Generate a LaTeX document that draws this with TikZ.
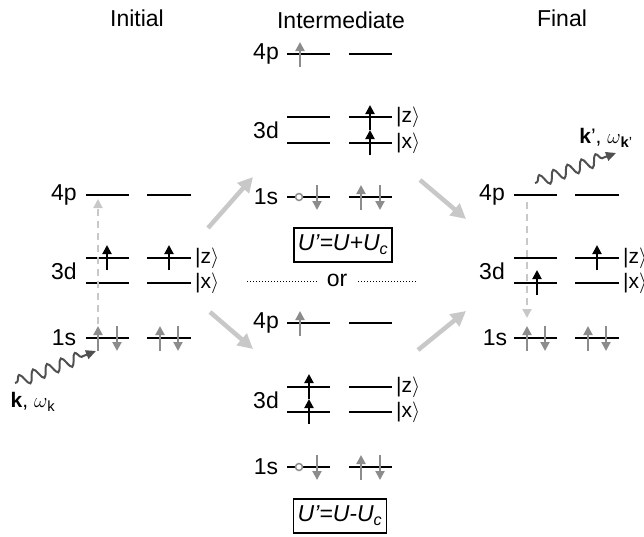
\documentclass[tikz,border=0pt]{standalone}
\usepackage{fontspec}
\setmainfont{Liberation Sans}
\usetikzlibrary{arrows.meta, positioning, decorations.pathmorphing}
\definecolor{spingray}{HTML}{8C8C8C}
\definecolor{pathgray}{HTML}{C8C8C8}
\definecolor{photongray}{HTML}{505050}
\tikzstyle{level} = [line width=2pt, black]
\tikzstyle{lbl} = [font=\fontsize{23}{26}\selectfont, inner sep=0pt]
\tikzstyle{ket} = [font=\fontsize{21}{24}\selectfont, anchor=west, inner sep=0pt]
\tikzstyle{upblack} = [line width=2pt, black, -{Triangle[length=9pt,width=9pt]}]
\tikzstyle{spin} = [line width=2pt, spingray, -{Triangle[length=9pt,width=9pt]}]
\tikzstyle{hole} = [circle, draw=spingray, fill=white, line width=1.5pt, minimum size=7pt, inner sep=0pt]
\tikzstyle{procarrow} = [line width=4.5pt, pathgray, -{Triangle[length=15pt,width=15pt]}]
\tikzstyle{decay} = [line width=2pt, pathgray, dash pattern=on 7pt off 5pt, -{Triangle[length=9pt,width=9pt]}]
\tikzstyle{photon} = [line width=2pt, photongray, -{Triangle[length=10pt,width=9pt]},
  decorate, decoration={snake, segment length=15pt, amplitude=6pt, pre length=2pt, post length=11pt}]
\tikzstyle{ubox} = [draw, line width=1.5pt, font=\fontsize{23}{26}\selectfont\itshape, inner sep=4pt, minimum height=34pt]

\begin{document}
\begin{tikzpicture}[x=1pt, y=-1pt]
  \useasboundingbox (0,0) rectangle (644,536);

  % headings
  \node[lbl] (initial) at (137,18) {Initial};
  \node[lbl] (inter) at (341,20) {Intermediate};
  \node[lbl] (final) at (562,18) {Final};

  % initial state
  \foreach \y in {195,258,283,338} {
    \draw[level] (86,\y) -- (129,\y);
    \draw[level] (147,\y) -- (191,\y);
  }
  \node[lbl] (i4p) at (64,195) {4p};
  \node[lbl] (i3d) at (64,271) {3d};
  \node[lbl] (i1s) at (64,338) {1s};
  \node[ket] (iz) at (195,258) {|z$\rangle$};
  \node[ket] (ix) at (195,283) {|x$\rangle$};
  \draw[upblack] (107,270) -- (107,245);
  \draw[upblack] (169,270) -- (169,245);
  \draw[spin] (98,351) -- (98,326);
  \draw[spin] (117,326) -- (117,351);
  \draw[spin] (160,351) -- (160,326);
  \draw[spin] (178,326) -- (178,351);

  \coordinate (absfrom) at (98,324);
  \coordinate (absto) at (98,199);
  \draw[decay] (absfrom) -- (absto);
  \coordinate (kin) at (15,383);
  \coordinate (kinend) at (96,351);
  \draw[photon] (kin) -- (kinend);
  \node[lbl, font=\fontsize{21}{24}\selectfont] (kvec) at (33,402) {\textbf{k}, $\omega$\textsubscript{k}};

  % intermediate, U' = U + Uc
  \foreach \y in {54,117,143,197} {
    \draw[level] (287,\y) -- (330,\y);
    \draw[level] (349,\y) -- (392,\y);
  }
  \node[lbl] (a4p) at (266,54) {4p};
  \node[lbl] (a3d) at (266,130) {3d};
  \node[lbl] (a1s) at (266,197) {1s};
  \node[ket] (az) at (396,117) {|z$\rangle$};
  \node[ket] (ax) at (396,143) {|x$\rangle$};
  \draw[spin] (300,67) -- (300,42);
  \draw[upblack] (370,155) -- (370,130);
  \draw[upblack] (370,130) -- (370,105);
  \node[hole] (ahole) at (299,197) {};
  \draw[spin] (317,185) -- (317,210);
  \draw[spin] (361,210) -- (361,185);
  \draw[spin] (380,185) -- (380,210);
  \node[ubox] (uplus) at (343,245) {U’=U+U\textsubscript{c}};

  % or
  \node[lbl] (or) at (337,280) {or};
  \draw[line width=1pt, dotted] (247,281) -- (318,281);
  \draw[line width=1pt, dotted] (358,281) -- (417,281);

  % intermediate, U' = U - Uc
  \foreach \y in {323,387,412,467} {
    \draw[level] (287,\y) -- (330,\y);
    \draw[level] (349,\y) -- (392,\y);
  }
  \node[lbl] (b4p) at (266,323) {4p};
  \node[lbl] (b3d) at (266,400) {3d};
  \node[lbl] (b1s) at (266,467) {1s};
  \node[ket] (bz) at (396,387) {|z$\rangle$};
  \node[ket] (bx) at (396,412) {|x$\rangle$};
  \draw[spin] (300,336) -- (300,311);
  \draw[upblack] (309,424) -- (309,399);
  \draw[upblack] (309,399) -- (309,374);
  \node[hole] (bhole) at (299,467) {};
  \draw[spin] (317,455) -- (317,480);
  \draw[spin] (361,480) -- (361,455);
  \draw[spin] (380,455) -- (380,480);
  \node[ubox] (uminus) at (340,516) {U’=U-U\textsubscript{c}};

  % final state
  \foreach \y in {195,258,283,338} {
    \draw[level] (514,\y) -- (557,\y);
    \draw[level] (575,\y) -- (619,\y);
  }
  \node[lbl] (f4p) at (492,195) {4p};
  \node[lbl] (f3d) at (492,271) {3d};
  \node[lbl] (f1s) at (495,338) {1s};
  \node[ket] (fz) at (623,258) {|z$\rangle$};
  \node[ket] (fx) at (623,283) {|x$\rangle$};
  \draw[upblack] (537,295) -- (537,270);
  \draw[upblack] (597,270) -- (597,245);
  \draw[spin] (527,351) -- (527,326);
  \draw[spin] (545,326) -- (545,351);
  \draw[spin] (588,351) -- (588,326);
  \draw[spin] (606,326) -- (606,351);

  \coordinate (emfrom) at (527,202);
  \coordinate (emto) at (527,318);
  \draw[decay] (emfrom) -- (emto);
  \coordinate (kout) at (535,183);
  \coordinate (koutend) at (616,153);
  \draw[photon] (kout) -- (koutend);
  \node[lbl, font=\fontsize{21}{24}\selectfont] (kpvec) at (606,138) {\textbf{k}’, $\omega$\textsubscript{\textbf{k}’}};

  % process arrows
  \coordinate (p1) at (208,228);
  \coordinate (p2) at (253,177);
  \coordinate (p3) at (210,312);
  \coordinate (p4) at (253,349);
  \coordinate (p5) at (420,180);
  \coordinate (p6) at (466,219);
  \coordinate (p7) at (418,350);
  \coordinate (p8) at (466,311);
  \draw[procarrow] (p1) -- (p2);
  \draw[procarrow] (p3) -- (p4);
  \draw[procarrow] (p5) -- (p6);
  \draw[procarrow] (p7) -- (p8);

\end{tikzpicture}
\end{document}
